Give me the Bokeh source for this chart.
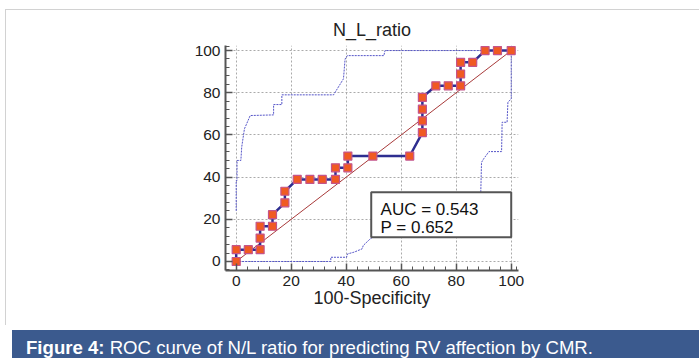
from bokeh.plotting import figure
from bokeh.models import Range1d, FixedTicker, BoxAnnotation, Label, Div
from bokeh.layouts import column
from bokeh.embed import file_html
from bokeh.resources import INLINE

# ---------------- data ----------------
title_text = "N_L_ratio"
x_label = "100-Specificity"
caption_bold = "Figure 4:"
caption_rest = "ROC curve of N/L ratio for predicting RV affection by CMR."
auc_text = "AUC = 0.543"
p_text = "P = 0.652"

major_ticks = [0, 20, 40, 60, 80, 100]
minor_ticks = [-4, 4, 8, 12, 16, 24, 28, 32, 36, 44, 48, 52, 56, 64, 68, 72, 76, 84, 88, 92, 96, 102]

roc_x = [0, 0, 4.4, 8.7, 8.7, 8.7, 13.2, 13.2, 17.7, 17.7, 22.2, 26.8, 31.3, 36.1, 36.1,
         40.6, 40.6, 49.7, 63.1, 67.7, 67.7, 67.7, 67.7, 72.6, 77.1, 81.6, 81.6, 81.6,
         86.0, 90.5, 95.0, 100]
roc_y = [0, 5.6, 5.6, 5.6, 11.1, 16.7, 16.7, 22.2, 27.8, 33.3, 38.9, 38.9, 38.9, 38.9, 44.4,
         44.4, 50, 50, 50, 61.1, 66.7, 72.2, 77.8, 83.3, 83.3, 83.3, 88.9, 94.4,
         94.4, 100, 100, 100]

upper_x = [0, 0, 0.3, 0.3, 1.7, 2.0, 3.0, 5.1, 13.6, 13.6, 16.6, 16.6, 35.4, 39.0, 39.6,
           40.4, 53.7, 54.1, 100]
upper_y = [24, 38.4, 38.4, 47.9, 47.9, 54.2, 62.9, 69.2, 69.5, 74.4, 74.4, 79.0, 79.0, 86.6,
           96.0, 97.6, 97.6, 100, 100]

lower_x = [0, 34.4, 34.4, 40.1, 40.5, 42.8, 45.8, 46.2, 48.8, 50.0, 58, 68, 78, 86, 88.9,
           89.2, 90.0, 91.9, 96.5, 96.7, 98.5, 98.8, 100, 100]
lower_y = [0, 0, 2.0, 2.0, 3.6, 4.4, 6.0, 7.6, 10.8, 11.8, 14, 18, 23, 28, 31,
           47, 48.7, 52.1, 52.1, 66, 66, 75.5, 77.1, 100]

diag_x = [0, 100]
diag_y = [0, 100]

FONT = "Liberation Sans"
AX = "#555555"

# ---------------- main plot ----------------
p = figure(frame_width=293, frame_height=225,
           min_border_left=225, min_border_right=181,
           min_border_top=45, min_border_bottom=55,
           x_range=Range1d(-3.89, 102.65), y_range=Range1d(-4.27, 102.4),
           toolbar_location=None, output_backend="svg", title=title_text)
p.outline_line_color = None
p.background_fill_color = "white"
p.border_fill_alpha = 0

p.title.text_font = FONT
p.title.text_font_size = "18px"
p.title.text_font_style = "normal"
p.title.text_color = "#222222"
p.title.align = "center"
p.title.standoff = 12

ticker = FixedTicker(ticks=major_ticks, minor_ticks=minor_ticks)
for ax in (p.xaxis[0], p.yaxis[0]):
    ax.ticker = ticker
    ax.axis_line_color = AX
    ax.axis_line_width = 2
    ax.major_tick_line_color = AX
    ax.major_tick_line_width = 1.5
    ax.minor_tick_line_color = AX
    ax.major_tick_in = 7
    ax.major_tick_out = 0
    ax.minor_tick_in = 4
    ax.minor_tick_out = 0
    ax.major_label_text_font = FONT
    ax.major_label_text_font_size = "15.5px"
    ax.major_label_text_color = "#222222"
p.yaxis[0].major_label_standoff = 5
p.xaxis[0].major_label_standoff = 5
p.xaxis[0].axis_label = x_label
p.xaxis[0].axis_label_text_font = FONT
p.xaxis[0].axis_label_text_font_size = "18px"
p.xaxis[0].axis_label_text_font_style = "normal"
p.xaxis[0].axis_label_text_color = "#222222"
p.xaxis[0].axis_label_standoff = -1

for g in (p.xgrid[0], p.ygrid[0]):
    g.ticker = ticker
    g.grid_line_color = "#aaaaaa"
    g.grid_line_dash = "2 2"
    g.grid_line_width = 1

p.line(diag_x, diag_y, line_color="#a83a3a", line_width=1)
p.line(upper_x, upper_y, line_color="#5555c8", line_width=1, line_dash="2 1")
p.line(lower_x, lower_y, line_color="#5555c8", line_width=1, line_dash="2 1")
p.line(roc_x, roc_y, line_color="#2e2e90", line_width=2.5)
p.scatter(roc_x, roc_y, marker="square", size=8, fill_color="#f05a22",
          line_color="#c4548a", line_width=1.2)

box = BoxAnnotation(left=49.1, right=100, bottom=11.5, top=32.8,
                    fill_color="white", fill_alpha=1.0,
                    line_color=AX, line_width=2, line_alpha=1.0)
p.add_layout(box)
p.add_layout(Label(x=52.5, y=24.6, text=auc_text, text_font=FONT,
                   text_font_size="17px", text_color="#111111",
                   text_baseline="alphabetic"))
p.add_layout(Label(x=52.5, y=16.0, text=p_text, text_font=FONT,
                   text_font_size="17px", text_color="#111111",
                   text_baseline="alphabetic"))

# ---------------- caption bar ----------------
BAR = "#3b5a8e"
cap = Div(text=f"<b>{caption_bold}</b> {caption_rest}", width=699, height=33,
          styles={"background": f"linear-gradient(to right, #ffffff 0px, #ffffff 7px, {BAR} 7px)",
                  "color": "white",
                  "font-family": "'Liberation Sans', Arial, sans-serif",
                  "font-size": "18.6px", "line-height": "20px",
                  "padding-left": "21px", "padding-top": "8px",
                  "box-sizing": "border-box", "overflow": "hidden",
                  "white-space": "nowrap"})

layout = column(p, cap, spacing=0)
layout.styles = {
    "background-color": "#ffffff",
    "background-image": "linear-gradient(#d2d2d2, #d2d2d2), linear-gradient(#d2d2d2, #d2d2d2)",
    "background-size": "694px 1px, 1px 316px",
    "background-position": "5px 9px, 5px 9px",
    "background-repeat": "no-repeat",
}
open("out.html", "w").write(file_html(layout, INLINE))
